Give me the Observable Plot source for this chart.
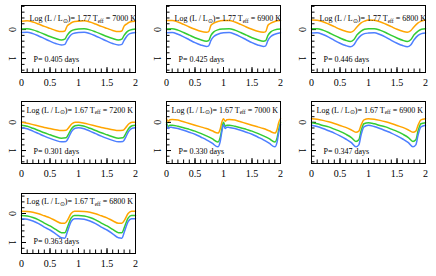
<!DOCTYPE html>
<html><head><meta charset="utf-8">
<script src="https://cdn.jsdelivr.net/npm/d3@7"></script>
<script src="https://cdn.jsdelivr.net/npm/@observablehq/plot@0.6"></script>
<style>
body{margin:0;background:#fff}
#c{position:relative;width:436px;height:276px;font-family:"Liberation Serif","Times New Roman",serif}
#c svg{position:absolute}
</style></head><body><div id="c"></div>
<script>
// ---- data (phase 0..2) ----
const p1x=[0,0.1,0.2,0.3,0.4,0.5,0.6,0.7,0.76,0.8,0.85,0.9, 1,1.1,1.2,1.3,1.4,1.5,1.6,1.7,1.76,1.8,1.85,1.9, 2];
const p1o=[-0.29,-0.30,-0.26,-0.19,-0.11,-0.04,0.03,0.07,0.05,-0.12,-0.20,-0.26, -0.29,-0.30,-0.26,-0.19,-0.11,-0.04,0.03,0.07,0.05,-0.12,-0.20,-0.26, -0.29];
const p1g=[-0.02,-0.03,0.01,0.08,0.16,0.24,0.31,0.36,0.33,0.20,0.08,0.02, -0.02,-0.03,0.01,0.08,0.16,0.24,0.31,0.36,0.33,0.20,0.08,0.02, -0.02];
const p1b=[0.10,0.09,0.14,0.22,0.31,0.40,0.48,0.53,0.51,0.37,0.22,0.14, 0.10,0.09,0.14,0.22,0.31,0.40,0.48,0.53,0.51,0.37,0.22,0.14, 0.10];

const p2x=[0,0.1,0.2,0.3,0.4,0.5,0.6,0.7,0.74,0.78,0.83,0.9, 1,1.1,1.2,1.3,1.4,1.5,1.6,1.7,1.74,1.78,1.83,1.9, 2];
const p2o=[-0.31,-0.31,-0.26,-0.18,-0.09,-0.01,0.06,0.09,0.07,-0.15,-0.22,-0.28, -0.31,-0.31,-0.26,-0.18,-0.09,-0.01,0.06,0.09,0.07,-0.15,-0.22,-0.28, -0.31];
const p2g=[-0.02,-0.03,0.02,0.10,0.19,0.28,0.35,0.40,0.38,0.20,0.08,0.01, -0.02,-0.03,0.02,0.10,0.19,0.28,0.35,0.40,0.38,0.20,0.08,0.01, -0.02];
const p2b=[0.11,0.10,0.16,0.25,0.35,0.45,0.53,0.58,0.56,0.37,0.24,0.16, 0.11,0.10,0.16,0.25,0.35,0.45,0.53,0.58,0.56,0.37,0.24,0.16, 0.11];

const p3x=[0,0.1,0.2,0.3,0.4,0.5,0.6,0.68,0.74,0.8,0.87,0.93, 1,1.1,1.2,1.3,1.4,1.5,1.6,1.68,1.74,1.8,1.87,1.93, 2];
const p3o=[-0.33,-0.32,-0.27,-0.19,-0.10,-0.01,0.06,0.09,0.04,-0.10,-0.23,-0.29, -0.33,-0.32,-0.27,-0.19,-0.10,-0.01,0.06,0.09,0.04,-0.10,-0.23,-0.29, -0.33];
const p3g=[-0.03,-0.03,0.02,0.10,0.20,0.29,0.37,0.41,0.35,0.18,0.05,-0.01, -0.03,-0.03,0.02,0.10,0.20,0.29,0.37,0.41,0.35,0.18,0.05,-0.01, -0.03];
const p3b=[0.12,0.11,0.17,0.26,0.37,0.47,0.55,0.59,0.53,0.35,0.20,0.14, 0.12,0.11,0.17,0.26,0.37,0.47,0.55,0.59,0.53,0.35,0.20,0.14, 0.12];

const p4x=[0,0.1,0.2,0.3,0.4,0.5,0.6,0.7,0.78,0.83,0.88,0.94, 1,1.1,1.2,1.3,1.4,1.5,1.6,1.7,1.78,1.83,1.88,1.94, 2];
const p4o=[0.00,0.03,0.08,0.13,0.18,0.22,0.26,0.29,0.28,0.18,0.06,0.00, 0.00,0.03,0.08,0.13,0.18,0.22,0.26,0.29,0.28,0.18,0.06,0.00, 0.00];
const p4g=[0.10,0.14,0.21,0.29,0.37,0.44,0.51,0.56,0.55,0.40,0.22,0.12, 0.10,0.14,0.21,0.29,0.37,0.44,0.51,0.56,0.55,0.40,0.22,0.12, 0.10];
const p4b=[0.19,0.23,0.31,0.40,0.49,0.57,0.64,0.69,0.68,0.52,0.32,0.21, 0.19,0.23,0.31,0.40,0.49,0.57,0.64,0.69,0.68,0.52,0.32,0.21, 0.19];

const p5x=[0,0.03,0.06,0.1,0.2,0.3,0.4,0.5,0.6,0.7,0.8,0.9,0.94,0.97, 1,1.03,1.06,1.1,1.2,1.3,1.4,1.5,1.6,1.7,1.8,1.9,1.94,1.97, 2];
const p5o=[-0.13,-0.04,-0.09,-0.10,-0.08,-0.02,0.04,0.10,0.16,0.22,0.30,0.38,0.25,0.00, -0.13,-0.04,-0.09,-0.10,-0.08,-0.02,0.04,0.10,0.16,0.22,0.30,0.38,0.25,0.00, -0.13];
const p5g=[0.00,0.14,0.10,0.10,0.14,0.19,0.25,0.31,0.39,0.48,0.58,0.70,0.55,0.25, 0.00,0.14,0.10,0.10,0.14,0.19,0.25,0.31,0.39,0.48,0.58,0.70,0.55,0.25, 0.00];
const p5b=[0.08,0.22,0.17,0.18,0.22,0.28,0.35,0.42,0.52,0.62,0.74,0.87,0.70,0.35, 0.08,0.22,0.17,0.18,0.22,0.28,0.35,0.42,0.52,0.62,0.74,0.87,0.70,0.35, 0.08];

const p6x=[0,0.1,0.2,0.3,0.4,0.5,0.6,0.7,0.78,0.83,0.87,0.92, 1,1.1,1.2,1.3,1.4,1.5,1.6,1.7,1.78,1.83,1.87,1.92, 2];
const p6o=[-0.13,-0.11,-0.07,-0.02,0.04,0.11,0.18,0.27,0.35,0.31,0.10,-0.09, -0.13,-0.11,-0.07,-0.02,0.04,0.11,0.18,0.27,0.35,0.31,0.10,-0.09, -0.13];
const p6g=[0.01,0.05,0.11,0.16,0.24,0.32,0.42,0.54,0.68,0.62,0.30,0.05, 0.01,0.05,0.11,0.16,0.24,0.32,0.42,0.54,0.68,0.62,0.30,0.05, 0.01];
const p6b=[0.10,0.15,0.22,0.30,0.38,0.48,0.59,0.72,0.87,0.80,0.45,0.16, 0.10,0.15,0.22,0.30,0.38,0.48,0.59,0.72,0.87,0.80,0.45,0.16, 0.10];

const p7x=[0,0.1,0.2,0.3,0.4,0.5,0.6,0.7,0.76,0.81,0.87,0.93, 1,1.1,1.2,1.3,1.4,1.5,1.6,1.7,1.76,1.81,1.87,1.93, 2];
const p7o=[-0.08,-0.07,-0.04,0.01,0.08,0.15,0.25,0.34,0.34,0.22,0.00,-0.08, -0.08,-0.07,-0.04,0.01,0.08,0.15,0.25,0.34,0.34,0.22,0.00,-0.08, -0.08];
const p7g=[0.07,0.09,0.14,0.22,0.33,0.43,0.55,0.66,0.66,0.45,0.16,0.07, 0.07,0.09,0.14,0.22,0.33,0.43,0.55,0.66,0.66,0.45,0.16,0.07, 0.07];
const p7b=[0.18,0.20,0.26,0.35,0.47,0.57,0.70,0.84,0.85,0.60,0.28,0.18, 0.18,0.20,0.26,0.35,0.47,0.57,0.70,0.84,0.85,0.60,0.28,0.18, 0.18];

const lums=["1.77","1.77","1.77","1.67","1.67","1.67","1.67"];
const teffs=["7000","6900","6800","7200","7000","6900","6800"];
const periods=["0.405","0.425","0.446","0.301","0.330","0.347","0.363"];
const xTickLabels=[0,0.5,1,1.5,2];
const yTickLabels=[0,1];
const xMinor=[0,0.1,0.2,0.3,0.4,0.5,0.6,0.7,0.8,0.9,1,1.1,1.2,1.3,1.4,1.5,1.6,1.7,1.8,1.9,2];
const yMinor=[-0.8,-0.6,-0.4,-0.2,0,0.2,0.4,0.6,0.8,1,1.2,1.4];

const series=[[p1x,p1o,p1g,p1b],[p2x,p2o,p2g,p2b],[p3x,p3o,p3g,p3b],[p4x,p4o,p4g,p4b],[p5x,p5o,p5g,p5b],[p6x,p6o,p6g,p6b],[p7x,p7o,p7g,p7b]];
const colors=["#ffa500","#33cc33","#4d7fff"];

// ---- layout ----
const colLeft=[21,166,311];
const frameW=114;
const rows=[{top:5,bottom:72,dom:[-0.83,1.48],txt:15.5,lx:8},{top:101,bottom:163,dom:[-0.74,1.46],txt:11,lx:5},{top:193,bottom:253,dom:[-0.69,1.38],txt:10.5,lx:5}];
const font='"Liberation Serif","Times New Roman",serif';
const ml=21, mr=4, mt=4, mb=18;
const container=document.getElementById("c");

series.forEach((s,i)=>{
  const [xs,o,g,b]=s;
  const r=rows[Math.floor(i/3)], c=i%3;
  const H=r.bottom-r.top;
  const data=[];
  [o,g,b].forEach((ys,k)=>xs.forEach((x,j)=>data.push({x,y:ys[j],k})));
  const inDom=t=>t>=r.dom[0]-1e-9&&t<=r.dom[1]+1e-9;
  const svg=Plot.plot({
    width:frameW+ml+mr, height:H+mt+mb,
    marginLeft:ml, marginRight:mr, marginTop:mt, marginBottom:mb,
    style:{fontFamily:font, background:"none", overflow:"visible"},
    x:{domain:[0,2]},
    y:{domain:r.dom, reverse:true},
    marks:[
      Plot.axisX({ticks:xMinor, tickSize:-3.5, tickFormat:()=>"", label:null, stroke:"#000"}),
      Plot.axisX({ticks:xTickLabels, tickSize:-5, tickFormat:()=>"", label:null, stroke:"#000"}),
      Plot.axisX({ticks:xTickLabels, tickSize:0, tickPadding:6, fontSize:10, label:null, tickFormat:d=>String(d), fill:"#000"}),
      Plot.axisY({ticks:yMinor.filter(inDom), tickSize:-3.5, tickFormat:()=>"", label:null, stroke:"#000"}),
      Plot.axisY({ticks:yTickLabels, tickSize:-5, tickFormat:()=>"", label:null, stroke:"#000"}),
      Plot.text(yTickLabels,{y:d=>d, text:d=>String(d), frameAnchor:"left", dx:-9, rotate:90, textAnchor:"middle", lineAnchor:"middle", fontSize:10, fill:"#000"}),
      Plot.line(data,{x:"x", y:"y", z:"k", stroke:d=>colors[d.k], strokeWidth:1.5, curve:"monotone-x"}),
      Plot.frame({stroke:"#000", strokeWidth:1}),
      Plot.text([0],{frameAnchor:"top-left", dx:r.lx, dy:r.txt, text:()=>"L", textAnchor:"start", lineAnchor:"bottom", fontSize:8, fill:"#000", className:"lbl"+i}),
      Plot.text([0],{frameAnchor:"bottom-left", dx:12, dy:-(r===rows[0]?10.5:9.5), text:()=>"P= "+periods[i]+" days", textAnchor:"start", lineAnchor:"bottom", fontSize:8, fill:"#000"})
    ]
  });
  svg.style.left=(colLeft[c]-ml)+"px";
  svg.style.top=(r.top-mt)+"px";
  container.appendChild(svg);
  d3.select(svg).selectAll("g.lbl"+i+" text").each(function(){
    const t=d3.select(this);
    t.text(null);
    t.append("tspan").text("Log (L / L");
    t.append("tspan").attr("dy",1.5).attr("font-size",5.5).text("\u2299");
    t.append("tspan").attr("dy",-1.5).text(")= "+lums[i]+" T");
    t.append("tspan").attr("dy",1.5).attr("font-size",5.5).text("eff");
    t.append("tspan").attr("dy",-1.5).text(" = "+teffs[i]+" K");
  });
});
</script></body></html>
